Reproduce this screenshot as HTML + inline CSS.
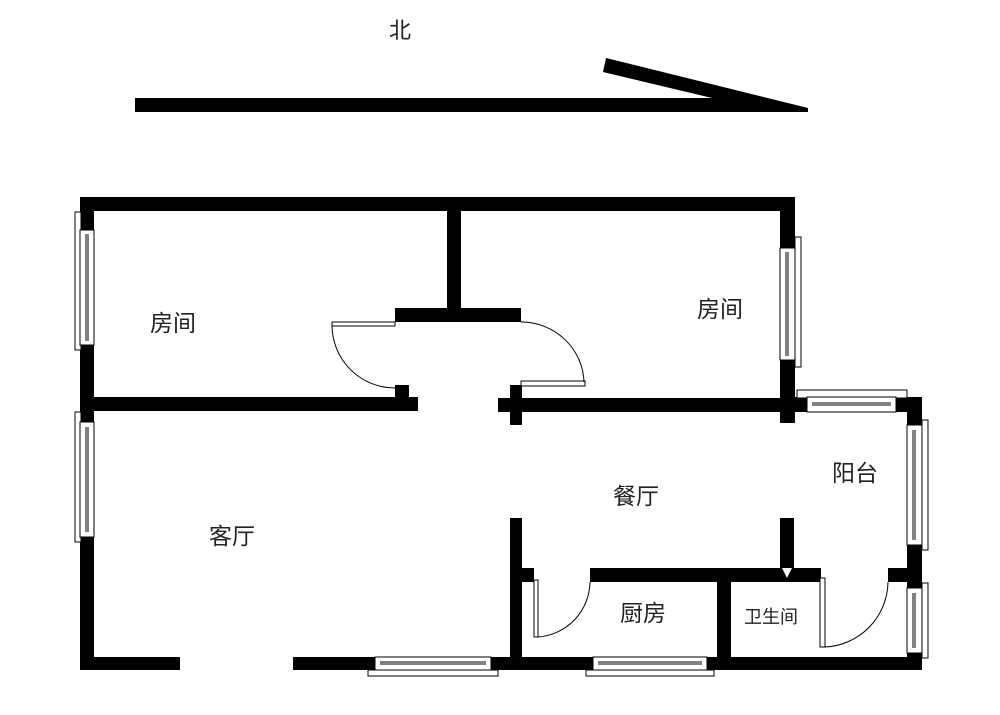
<!DOCTYPE html>
<html><head><meta charset="utf-8"><style>
html,body{margin:0;padding:0;background:#fff;}
svg{display:block}
text{font-family:"Liberation Sans","Noto Sans CJK SC",sans-serif;fill:#222}
</style></head><body>
<svg width="1000" height="715" viewBox="0 0 1000 715" xmlns="http://www.w3.org/2000/svg">
<text x="400" y="38" font-size="22" text-anchor="middle">北</text>
<polygon points="135,98 712,98 603,72 606,58 808,108 808,112 135,112" fill="#000"/>

<g fill="#000">
<rect x="80" y="197" width="715" height="14"/>
<rect x="80" y="197" width="14" height="473"/>
<rect x="80" y="657" width="100" height="13"/>
<rect x="293" y="657" width="629" height="13"/>
<rect x="80" y="397" width="338" height="14"/>
<rect x="395" y="385" width="14" height="14"/>
<rect x="498" y="398" width="297" height="14"/>
<rect x="510" y="385" width="12" height="40"/>
<rect x="447" y="197" width="14" height="120"/>
<rect x="395" y="308" width="126" height="14"/>
<rect x="780" y="197" width="15" height="226"/>
<rect x="795" y="397" width="12" height="15"/>
<rect x="896" y="397" width="26" height="15"/>
<rect x="907" y="397" width="15" height="273"/>
<rect x="888" y="568" width="34" height="14"/>
<rect x="510" y="518" width="12" height="152"/>
<rect x="510" y="568" width="24" height="14"/>
<rect x="590" y="568" width="231" height="14"/>
<rect x="717" y="568" width="14" height="95"/>
<rect x="780" y="518" width="14" height="52"/>
</g>
<polygon points="782,568 792,568 787,578" fill="#fff"/>

<g fill="#fff" stroke="#000" stroke-width="1">
<rect x="75" y="212" width="6" height="138"/>
<rect x="80" y="230" width="14" height="115"/>
<line x1="86" y1="234" x2="86" y2="341"/><line x1="88" y1="234" x2="88" y2="341"/>
<rect x="75" y="412" width="6" height="130"/>
<rect x="80" y="422" width="14" height="115"/>
<line x1="86" y1="427" x2="86" y2="532"/><line x1="88" y1="427" x2="88" y2="532"/>
<rect x="795" y="237" width="6" height="130"/>
<rect x="780" y="248" width="15" height="112"/>
<line x1="786" y1="252" x2="786" y2="356"/><line x1="788" y1="252" x2="788" y2="356"/>
<rect x="797" y="390" width="110" height="8"/>
<rect x="807" y="397" width="89" height="15"/>
<line x1="812" y1="403" x2="891" y2="403"/><line x1="812" y1="405" x2="891" y2="405"/>
<rect x="922" y="420" width="6" height="130"/>
<rect x="907" y="425" width="15" height="120"/>
<line x1="913" y1="430" x2="913" y2="540"/><line x1="915" y1="430" x2="915" y2="540"/>
<rect x="922" y="583" width="6" height="75"/>
<rect x="907" y="588" width="15" height="65"/>
<line x1="913" y1="593" x2="913" y2="648"/><line x1="915" y1="593" x2="915" y2="648"/>
<rect x="368" y="670" width="130" height="6"/>
<rect x="375" y="657" width="116" height="13"/>
<line x1="380" y1="662" x2="486" y2="662"/><line x1="380" y1="664" x2="486" y2="664"/>
<rect x="586" y="670" width="128" height="6"/>
<rect x="593" y="657" width="114" height="13"/>
<line x1="598" y1="662" x2="702" y2="662"/><line x1="598" y1="664" x2="702" y2="664"/>
</g>

<g fill="#fff" stroke="#000" stroke-width="1">
<rect x="332" y="322" width="63" height="4"/>
<rect x="521" y="381" width="64" height="5"/>
<rect x="534" y="580" width="4" height="57"/>
<rect x="820" y="578" width="5" height="69"/>
</g>
<g fill="none" stroke="#000" stroke-width="1">
<path d="M332,325 A63,63 0 0 0 395,388"/>
<path d="M521,322 A63,62 0 0 1 584,382"/>
<path d="M538,637 A56,56 0 0 0 590,582"/>
<path d="M825,647 A66,66 0 0 0 888,582"/>
</g>

<g font-size="23">
<text x="173" y="331" text-anchor="middle">房间</text>
<text x="720" y="317" text-anchor="middle">房间</text>
<text x="232" y="544" text-anchor="middle">客厅</text>
<text x="636" y="504" text-anchor="middle">餐厅</text>
<text x="855" y="481" text-anchor="middle">阳台</text>
<text x="643" y="621" text-anchor="middle">厨房</text>
</g>
<text x="771" y="623" font-size="18" text-anchor="middle">卫生间</text>
</svg>
</body></html>
